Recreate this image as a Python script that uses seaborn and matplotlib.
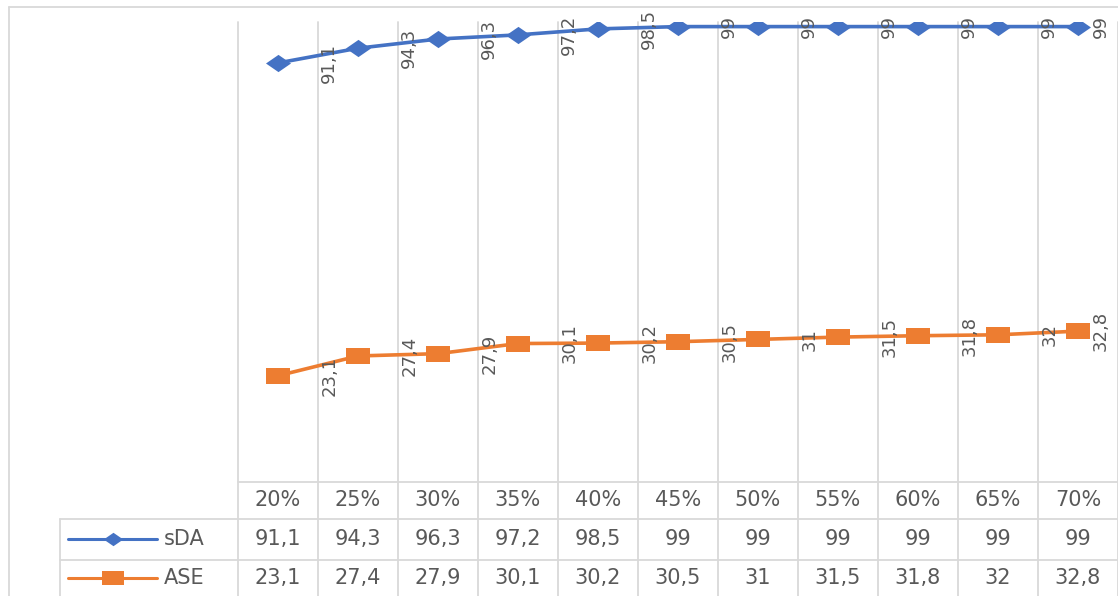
import numpy as np
import pandas as pd
import matplotlib
matplotlib.use("Agg")
import matplotlib.pyplot as plt
import matplotlib.transforms as mtransforms
from matplotlib.lines import Line2D
import seaborn as sns

categorias = ["20%", "25%", "30%", "35%", "40%", "45%", "50%", "55%", "60%", "65%", "70%"]
sda = [91.1, 94.3, 96.3, 97.2, 98.5, 99, 99, 99, 99, 99, 99]
ase = [23.1, 27.4, 27.9, 30.1, 30.2, 30.5, 31, 31.5, 31.8, 32, 32.8]
series = ["sDA", "ASE"]

AZUL = "#4472C4"
NARANJA = "#ED7D31"
GRIS_TEXTO = "#595959"
GRIS_LINEA = "#D9D9D9"

# marcadores estirados como en la captura de Excel
DIAMANTE = [(-1.45, 0), (0, 1), (1.45, 0), (0, -1), (-1.45, 0)]
CUADRADO = [(-1.5, -1), (1.5, -1), (1.5, 1), (-1.5, 1), (-1.5, -1)]

W, H = 1118, 596
sns.set_theme(style="white")
plt.rcParams["font.family"] = ["DejaVu Sans"]


def fx(px):
    return px / W


def fy(py):
    return 1 - py / H


def coma(v):
    return f"{v:g}".replace(".", ",")


df = pd.DataFrame({"pos": np.arange(len(categorias)), "sDA": sda, "ASE": ase})

fig = plt.figure(figsize=(W / 100, H / 100), dpi=100)
ax = fig.add_axes([fx(238), fy(482), fx(W) - fx(238), fy(22) - fy(482)])
ax.patch.set_alpha(0)

estilos = {"sDA": (AZUL, DIAMANTE), "ASE": (NARANJA, CUADRADO)}
for s in series:
    color, marca = estilos[s]
    sns.lineplot(data=df, x="pos", y=s, ax=ax, color=color, lw=2.6,
                 marker=marca, markersize=18, markeredgewidth=0,
                 markeredgecolor=color, zorder=3)

ax.set_xlim(-0.5, len(categorias) - 0.5)
ax.set_ylim(0, 100)
ax.set_xticks([])
ax.set_yticks([])
ax.set_xlabel("")
ax.set_ylabel("")
for sp in ax.spines.values():
    sp.set_visible(False)

# etiquetas de datos giradas
xmax = len(categorias) - 0.5
for s in series:
    for i, v in enumerate(df[s]):
        x = min(i + 0.64, xmax - 0.22)
        ax.text(x, v, coma(v), rotation=90, ha="center", va="center",
                fontsize=13, color=GRIS_TEXTO, zorder=4)

# tabla de datos
blend = mtransforms.blended_transform_factory(ax.transData, fig.transFigure)
for b in np.arange(-0.5, len(categorias), 1.0):
    fig.add_artist(Line2D([b, b], [fy(22), 0], transform=blend,
                          color=GRIS_LINEA, lw=1.3, zorder=0))

marco = [
    ([9, W], [7, 7]),
    ([9, 9], [7, H]),
    ([238, W], [482, 482]),
    ([60, W], [519, 519]),
    ([60, W], [560, 560]),
    ([60, 60], [519, H]),
]
for xs, ys in marco:
    fig.add_artist(Line2D([fx(x) for x in xs], [fy(y) for y in ys],
                          transform=fig.transFigure, color=GRIS_LINEA, lw=1.3, zorder=0))

filas_y = {"cat": 500, "sDA": 539, "ASE": 578}
for i, c in enumerate(categorias):
    fig.text(0, 0, c, transform=blend, fontsize=15, color=GRIS_TEXTO,
             ha="center", va="center").set_position((i, fy(filas_y["cat"])))
    for s in series:
        fig.text(0, 0, coma(df[s][i]), transform=blend, fontsize=15, color=GRIS_TEXTO,
                 ha="center", va="center").set_position((i, fy(filas_y[s])))

# claves de leyenda dentro de la tabla
leyenda = {"sDA": (AZUL, DIAMANTE, 14), "ASE": (NARANJA, CUADRADO, 16)}
for s in series:
    color, marca, tam = leyenda[s]
    y = fy(filas_y[s])
    fig.add_artist(Line2D([fx(68), fx(157)], [y, y], transform=fig.transFigure,
                          color=color, lw=2.2))
    fig.add_artist(Line2D([fx(113)], [y], transform=fig.transFigure, color=color,
                          marker=marca, markersize=tam, markeredgewidth=0, lw=0))
    fig.text(fx(164), y, s, fontsize=15, color=GRIS_TEXTO, ha="left", va="center")

fig.savefig("out.png", dpi=100)
